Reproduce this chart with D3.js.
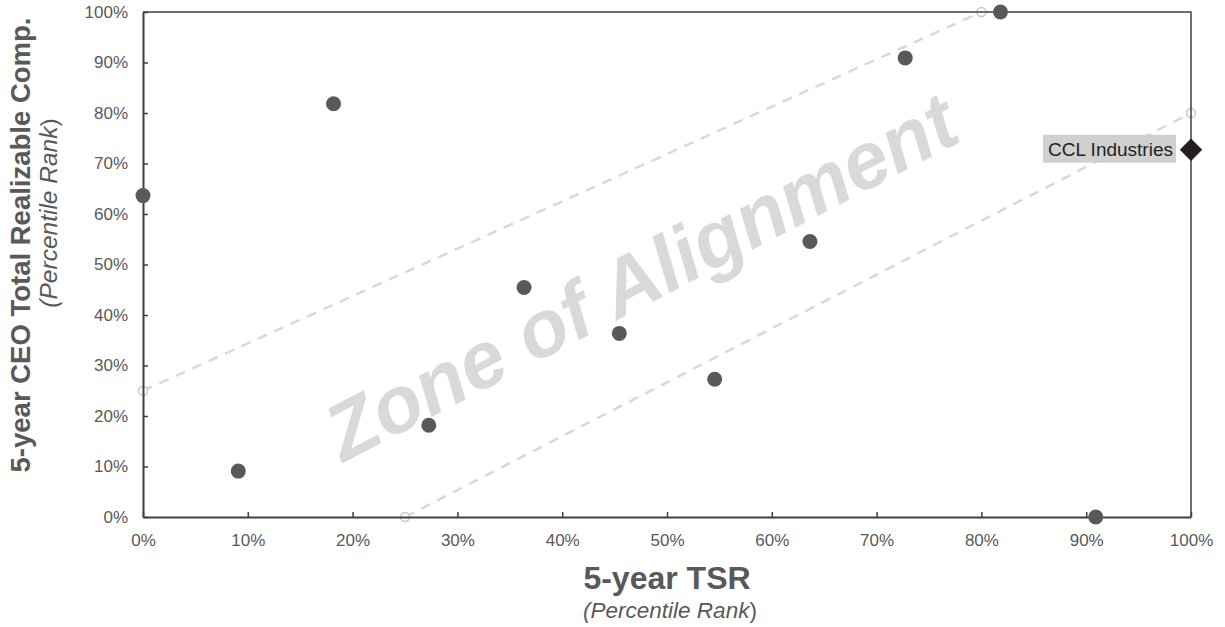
<!DOCTYPE html>
<html>
<head>
<meta charset="utf-8">
<script src="https://cdn.jsdelivr.net/npm/d3@7"></script>
<style>
  body { margin: 0; background: #fff; }
  text { font-family: "Liberation Sans", Arial, sans-serif; }
</style>
</head>
<body>
<svg width="1225" height="627"></svg>
<script>
// peers: percentile ranks (x = TSR, y = realizable comp)
const peerTsr  = [0, 9.09, 18.18, 27.27, 36.36, 45.45, 54.55, 63.64, 72.73, 81.82, 90.91];
const peerComp = [63.64, 9.09, 81.82, 18.18, 45.45, 36.36, 27.27, 54.55, 90.91, 100, 0];
const companyName = "CCL Industries";
const companyTsr = 100;
const companyComp = 72.73;
// zone of alignment boundaries
const upperLine = [[0, 25], [80, 100]];
const lowerLine = [[25, 0], [100, 80]];
const tickValues = [0, 10, 20, 30, 40, 50, 60, 70, 80, 90, 100];

const svg = d3.select("svg");
const x = d3.scaleLinear().domain([0, 100]).range([143, 1191]);
const y = d3.scaleLinear().domain([0, 100]).range([517, 12]);
const grey = "#595959";

// watermark
svg.append("text")
    .attr("transform", "translate(641,277) rotate(-27.5)")
    .attr("text-anchor", "middle")
    .attr("dominant-baseline", "central")
    .attr("font-size", "80px")
    .attr("font-weight", "bold")
    .attr("font-style", "italic")
    .attr("fill", "#d9d9d9")
    .text("Zone of Alignment");

// zone lines
[upperLine, lowerLine].forEach(function(seg) {
    svg.append("line")
        .attr("x1", x(seg[0][0])).attr("y1", y(seg[0][1]))
        .attr("x2", x(seg[1][0])).attr("y2", y(seg[1][1]))
        .attr("stroke", "#d9d9d9")
        .attr("stroke-width", 2.5)
        .attr("stroke-dasharray", "10,8");
    seg.forEach(function(p) {
        svg.append("circle")
            .attr("cx", x(p[0])).attr("cy", y(p[1]))
            .attr("r", 4.5)
            .attr("fill", "#fff")
            .attr("stroke", "#c4c4c4")
            .attr("stroke-width", 1.3);
    });
});

// axes
svg.append("g")
    .attr("transform", "translate(0,517)")
    .call(d3.axisBottom(x).tickValues(tickValues).tickSizeInner(-5).tickSizeOuter(0)
        .tickFormat(function(d) { return d + "%"; }))
    .call(function(g) {
        g.select(".domain").attr("stroke", "#404040").attr("stroke-width", 2);
        g.selectAll(".tick line").attr("stroke", "#404040").attr("stroke-width", 1.5);
        g.selectAll(".tick text").attr("y", 17).attr("font-size", "17px").attr("fill", grey)
            .attr("font-family", "Liberation Sans, Arial, sans-serif");
    });
svg.append("g")
    .attr("transform", "translate(143,0)")
    .call(d3.axisLeft(y).tickValues(tickValues).tickSizeInner(-5).tickSizeOuter(0)
        .tickFormat(function(d) { return d + "%"; }))
    .call(function(g) {
        g.select(".domain").attr("stroke", "#404040").attr("stroke-width", 2);
        g.selectAll(".tick line").attr("stroke", "#404040").attr("stroke-width", 1.5);
        g.selectAll(".tick text").attr("x", -15).attr("font-size", "17px").attr("fill", grey)
            .attr("font-family", "Liberation Sans, Arial, sans-serif");
    });
// top and right border
svg.append("path")
    .attr("d", "M" + x(0) + "," + y(100) + "H" + x(100) + "V" + y(0))
    .attr("fill", "none")
    .attr("stroke", "#404040")
    .attr("stroke-width", 1.5);

// peers
svg.append("g").selectAll("circle")
    .data(peerTsr).enter()
    .append("circle")
    .attr("cx", function(d) { return x(d); })
    .attr("cy", function(d, i) { return y(peerComp[i]); })
    .attr("r", 7.5)
    .attr("fill", grey);

// company
const cx = x(companyTsr), cy = y(companyComp);
svg.append("rect")
    .attr("x", cx - 148).attr("y", cy - 15)
    .attr("width", 133).attr("height", 28)
    .attr("fill", "#d0d0d0");
svg.append("text")
    .attr("x", cx - 18).attr("y", cy + 6)
    .attr("text-anchor", "end")
    .attr("font-size", "19px")
    .attr("fill", "#231f20")
    .text(companyName);
svg.append("path")
    .attr("d", d3.symbol().type(d3.symbolDiamond2).size(320)())
    .attr("transform", "translate(" + cx + "," + cy + ")")
    .attr("fill", "#231f20");

// axis titles
svg.append("text")
    .attr("x", 667).attr("y", 589)
    .attr("text-anchor", "middle")
    .attr("font-size", "32px").attr("font-weight", "bold").attr("fill", grey)
    .text("5-year TSR");
const xs = svg.append("text")
    .attr("x", 670).attr("y", 618)
    .attr("text-anchor", "middle")
    .attr("font-size", "22.5px").attr("fill", grey);
xs.append("tspan").attr("font-style", "italic").text("(Percentile Rank");
xs.append("tspan").text(")");

svg.append("text")
    .attr("transform", "translate(30,245) rotate(-90)")
    .attr("text-anchor", "middle")
    .attr("font-size", "27.5px").attr("font-weight", "bold").attr("fill", grey)
    .text("5-year CEO Total Realizable Comp.");
const ys = svg.append("text")
    .attr("transform", "translate(57,213) rotate(-90)")
    .attr("text-anchor", "middle")
    .attr("font-size", "24.5px").attr("fill", grey);
ys.append("tspan").attr("font-style", "italic").text("(Percentile Rank");
ys.append("tspan").text(")");
</script>
</body>
</html>
